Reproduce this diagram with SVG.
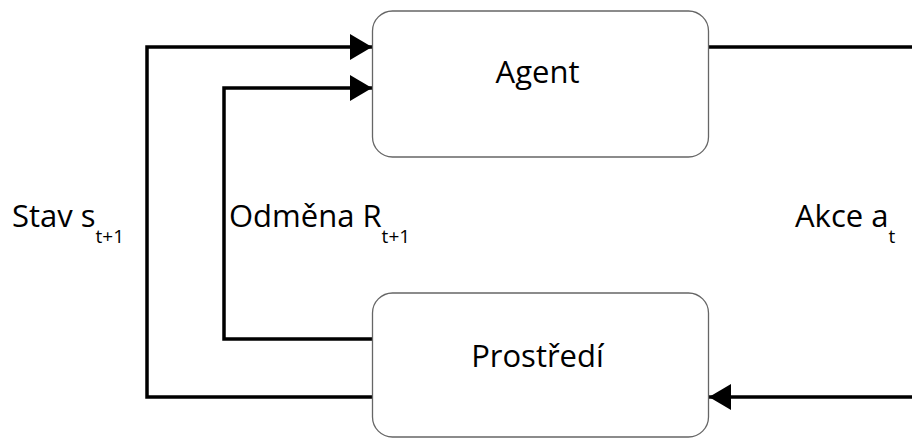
<svg xmlns="http://www.w3.org/2000/svg" width="912" height="439" viewBox="0 0 912 439">
<defs>
<style>
.box{fill:#fff;stroke:#666;stroke-width:1.3}
.ln{fill:none;stroke:#000;stroke-width:3.5}
.t{font-family:"Open Sans","Noto Sans",sans-serif;font-size:31px;fill:#000}
.s{font-size:19px}
</style>
<marker id="ah" markerWidth="22" markerHeight="26" refX="22" refY="13" orient="auto" markerUnits="userSpaceOnUse">
<path d="M0,0 L22,13 L0,26 Z" fill="#000"/>
</marker>
</defs>
<rect width="912" height="439" fill="#fff"/>
<g id="connectors">
<path class="ln" d="M372,397 H147 V47 H372" marker-end="url(#ah)"/>
<path class="ln" d="M372,339 H224 V88 H372" marker-end="url(#ah)"/>
<path class="ln" d="M709,47 H920"/>
<path class="ln" d="M920,397 H709" marker-end="url(#ah)"/>
</g>
<g id="agent">
<rect class="box" x="372.5" y="11" width="336" height="146" rx="20"/>
<text class="t" x="537.5" y="83" text-anchor="middle">Agent</text>
</g>
<g id="prostredi">
<rect class="box" x="372.5" y="293" width="336" height="144" rx="20"/>
<text class="t" x="537.5" y="367" text-anchor="middle">Prostředí</text>
</g>
<g id="labels">
<text class="t" x="12" y="227">Stav s<tspan class="s" dy="16">t+1</tspan></text>
<text class="t" x="229" y="227">Odměna R<tspan class="s" dy="16">t+1</tspan></text>
<text class="t" x="795" y="227">Akce a<tspan class="s" dy="16">t</tspan></text>
</g>
</svg>
